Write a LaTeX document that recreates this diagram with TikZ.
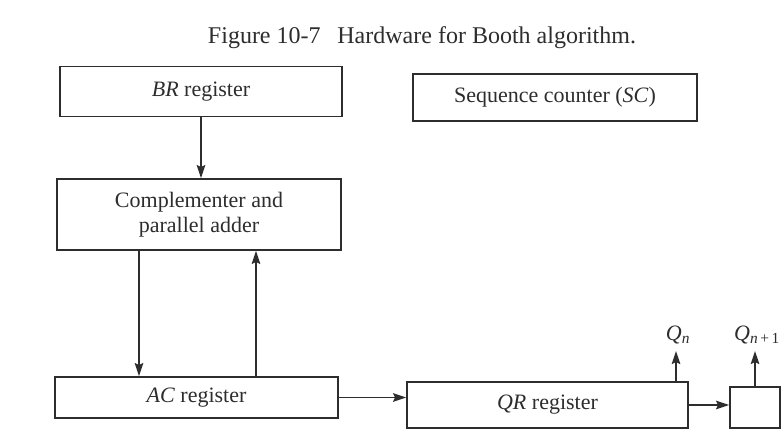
\documentclass[tikz,border=0pt]{standalone}
\usepackage{fontspec}
\setmainfont{Liberation Serif}
\usetikzlibrary{arrows.meta}
\definecolor{ink}{RGB}{45,45,45}
\begin{document}
\begin{tikzpicture}[x=1pt,y=-1pt,
  box/.style={draw=ink, line width=1.8pt, inner sep=0pt, text=ink,
    font=\fontsize{22}{25}\selectfont, align=center},
  arr/.style={draw=ink, line width=1.8pt, -{Stealth[length=13pt,width=8.5pt,inset=2pt]}},
  lbl/.style={text=ink, font=\fontsize{22}{25}\selectfont, inner sep=1pt}]
\useasboundingbox[fill=white] (0,0) rectangle (781,438);
\node[text=ink, font=\fontsize{24}{28}\selectfont] (title) at (422,38)
  {Figure 10-7\hspace{0.7em}Hardware for Booth algorithm.};
\node[box, minimum width=282pt, minimum height=50pt] (br) at (201,91.5) {\textit{BR} register};
\node[box, minimum width=284pt, minimum height=47pt] (sc) at (555,97.5) {Sequence counter (\textit{SC})};
\node[box, minimum width=284pt, minimum height=71pt] (cpa) at (199,214.5) {Complementer and\\parallel adder};
\node[box, minimum width=283pt, minimum height=41pt] (ac) at (196.5,397.5) {\textit{AC} register};
\node[box, minimum width=281pt, minimum height=46pt] (qr) at (547.5,405) {\textit{QR} register};
\node[box, minimum width=50pt, minimum height=41pt] (ff) at (755,407.5) {};
\node[lbl, anchor=south] (qn) at (678,345) {\textit{Q}\textsubscript{\textit{n}}};
\node[lbl, anchor=south] (qn1) at (757,345) {\textit{Q}\textsubscript{\textit{n}\,+\,1}};
\coordinate (xd) at (139,0);
\coordinate (xu) at (256,0);
\coordinate (xq) at (676,0);
\draw[arr] (br.south) -- (br.south |- cpa.north);
\draw[arr] (cpa.south -| xd) -- (ac.north -| xd);
\draw[arr] (ac.north -| xu) -- (cpa.south -| xu);
\draw[arr] (ac.east) -- (ac.east -| qr.west);
\draw[arr] (qr.east) -- (qr.east -| ff.west);
\draw[arr] (qr.north -| xq) -- ([yshift=-6pt]xq |- qn.south);
\draw[arr] (ff.north) -- ([yshift=-6pt]ff.north |- qn1.south);
\end{tikzpicture}
\end{document}
